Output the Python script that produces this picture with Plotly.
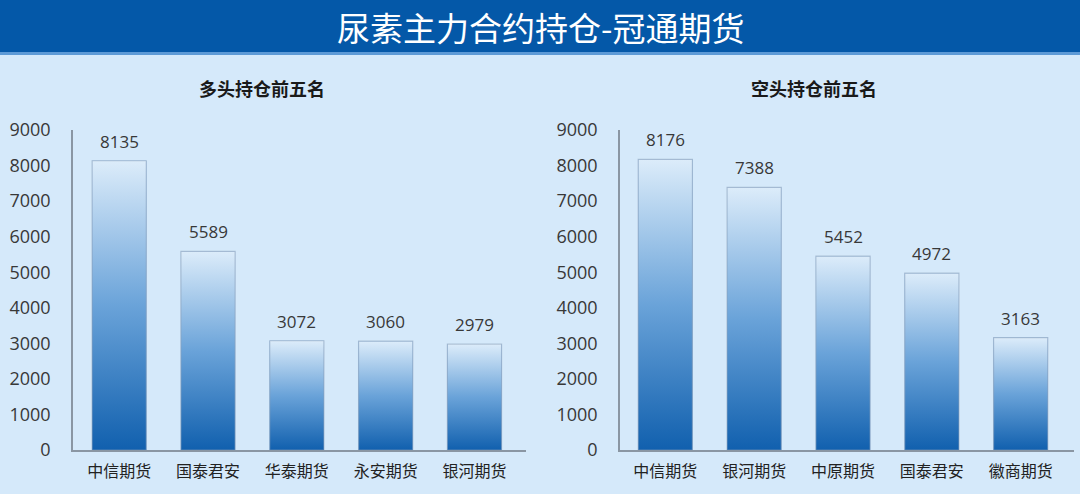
import plotly.graph_objects as go

# ---- data ----
long_names = ["中信期货", "国泰君安", "华泰期货", "永安期货", "银河期货"]
long_values = [8135, 5589, 3072, 3060, 2979]
short_names = ["中信期货", "银河期货", "中原期货", "国泰君安", "徽商期货"]
short_values = [8176, 7388, 5452, 4972, 3163]
y_ticks = [0, 1000, 2000, 3000, 4000, 5000, 6000, 7000, 8000, 9000]

main_title = "尿素主力合约持仓-冠通期货"
left_title = "多头持仓前五名"
right_title = "空头持仓前五名"

W, H = 1080, 494
BAR_W = 0.61
DARK = "#1160ae"
LIGHT = "#dcecfa"
BG = "#d5e9fa"
NUM_FONT = "Open Sans"
CJK_FONT = "Noto Sans CJK SC"

fig = go.Figure()

panels = [
    (long_names, long_values, "x", "y"),
    (short_names, short_values, "x2", "y2"),
]

for names, values, xa, ya in panels:
    idx = list(range(len(values)))
    # real bar trace
    fig.add_trace(go.Bar(
        x=idx, y=values, width=BAR_W, xaxis=xa, yaxis=ya,
        marker=dict(color="#4f8fcf", line=dict(width=0)),
        hoverinfo="x+y", showlegend=False,
    ))
    # vertical gradient overlay per bar, derived from the data
    for i, v in zip(idx, values):
        x0, x1 = i - BAR_W / 2, i + BAR_W / 2
        fig.add_trace(go.Scatter(
            x=[x0, x1, x1, x0, x0], y=[0, 0, v, v, 0],
            xaxis=xa, yaxis=ya, mode="lines", fill="toself",
            line=dict(color="rgba(140,160,185,0.55)", width=1.2),
            fillgradient=dict(type="vertical", start=0, stop=v,
                              colorscale=[[0, DARK], [0.5, "#6aa3d9"], [1, LIGHT]]),
            hoverinfo="skip", showlegend=False,
        ))
    # value labels
    for i, v in zip(idx, values):
        fig.add_annotation(
            x=i, y=v, xref=xa, yref=ya, text=str(v), showarrow=False,
            yanchor="bottom", yshift=6,
            font=dict(family=NUM_FONT, size=17, color="#383838"),
        )

axis_common = dict(showgrid=False, zeroline=False, fixedrange=True, automargin=False)
fig.update_layout(
    width=W, height=H,
    margin=dict(l=0, r=0, t=0, b=0, autoexpand=False),
    paper_bgcolor=BG,
    plot_bgcolor="rgba(0,0,0,0)",
    showlegend=False,
    xaxis=dict(domain=[73 / W, 526 / W], range=[-0.52, 4.58],
               tickvals=list(range(5)), ticktext=long_names,
               showline=True, linecolor="#8a96a3", linewidth=1.5, ticks="",
               ticklabelstandoff=6,
               tickfont=dict(family=CJK_FONT, size=16, color="#222222"),
               anchor="y", **axis_common),
    yaxis=dict(domain=[44 / H, 364 / H], range=[0, 9000],
               tickvals=y_ticks, showline=True, linecolor="#8a96a3", linewidth=1.5,
               ticks="", ticklabelstandoff=17,
               tickfont=dict(family=NUM_FONT, size=18, color="#383838"),
               anchor="x", **axis_common),
    xaxis2=dict(domain=[620 / W, 1074 / W], range=[-0.51, 4.6],
                tickvals=list(range(5)), ticktext=short_names,
                showline=True, linecolor="#8a96a3", linewidth=1.5, ticks="",
                ticklabelstandoff=6,
                tickfont=dict(family=CJK_FONT, size=16, color="#222222"),
                anchor="y2", **axis_common),
    yaxis2=dict(domain=[44 / H, 364 / H], range=[0, 9000],
                tickvals=y_ticks, showline=True, linecolor="#8a96a3", linewidth=1.5,
                ticks="", ticklabelstandoff=17,
                tickfont=dict(family=NUM_FONT, size=18, color="#383838"),
                anchor="x2", **axis_common),
)

# title banner
fig.add_shape(type="rect", xref="paper", yref="paper", x0=0, x1=1,
              y0=(H - 52) / H, y1=1, fillcolor="#0458a8", line=dict(width=0), layer="below")
fig.add_shape(type="rect", xref="paper", yref="paper", x0=0, x1=1,
              y0=(H - 55) / H, y1=(H - 52) / H, fillcolor="#5d9ad6", line=dict(width=0), layer="below")
fig.add_annotation(xref="paper", yref="paper", x=0.5, y=(H - 27) / H, text=main_title,
                   showarrow=False, xanchor="center", yanchor="middle",
                   font=dict(family=CJK_FONT, size=33, color="white"))
# panel titles
fig.add_annotation(xref="paper", yref="paper", x=262 / W, y=(H - 88) / H, text="<b>" + left_title + "</b>",
                   showarrow=False, xanchor="center", yanchor="middle",
                   font=dict(family=CJK_FONT, size=18, color="#1a1a1a"))
fig.add_annotation(xref="paper", yref="paper", x=814 / W, y=(H - 88) / H, text="<b>" + right_title + "</b>",
                   showarrow=False, xanchor="center", yanchor="middle",
                   font=dict(family=CJK_FONT, size=18, color="#1a1a1a"))

post_js = (
    "document.documentElement.style.background='" + BG + "';"
    "document.body.style.margin='0';document.body.style.padding='0';"
    "document.body.style.background='" + BG + "';"
)

fig.write_html("out.html", config={"displayModeBar": False}, post_script=post_js)
